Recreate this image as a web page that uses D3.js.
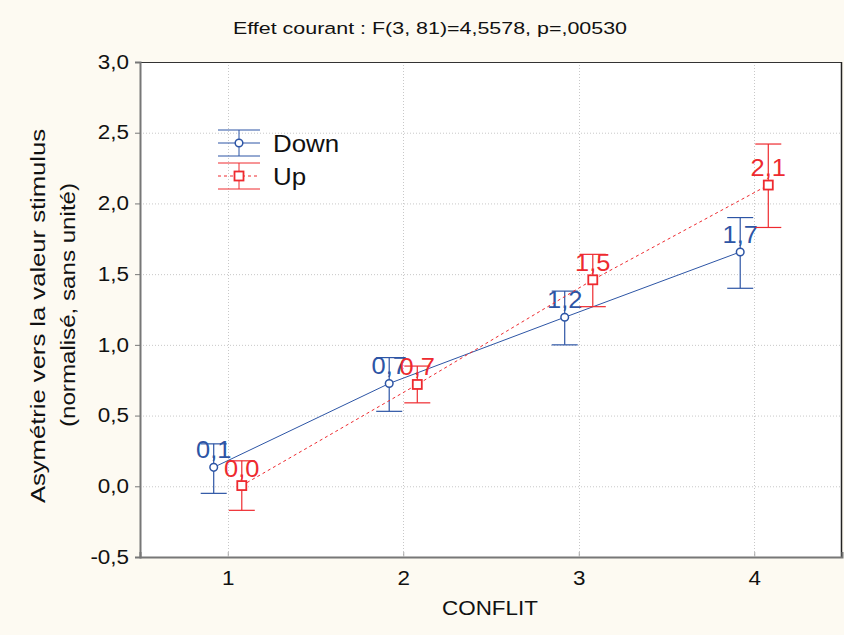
<!DOCTYPE html>
<html>
<head>
<meta charset="utf-8">
<script src="https://cdn.jsdelivr.net/npm/d3@7/dist/d3.min.js"></script>
<style>
  html, body { margin: 0; padding: 0; background: #fdfaf2; }
  svg { display: block; font-family: "Liberation Sans", Arial, sans-serif; }
</style>
</head>
<body>
<svg id="chart" width="844" height="635"></svg>
<script>
// Conflict levels on the x axis
const conflits = [1, 2, 3, 4];
// Mean asymmetry per condition, with error-bar bounds
const downMeans = [0.134, 0.727, 1.195, 1.657];
const downLow   = [-0.05, 0.53, 1.00, 1.40];
const downHigh  = [0.30, 0.91, 1.38, 1.90];
const upMeans   = [0.005, 0.72, 1.46, 2.13];
const upLow     = [-0.17, 0.59, 1.27, 1.83];
const upHigh    = [0.18, 0.85, 1.64, 2.42];
const yTicks = [-0.5, 0, 0.5, 1, 1.5, 2, 2.5, 3];

const svg = d3.select("#chart");
const plotL = 140, plotR = 842, plotT = 62, plotB = 557;

const x = d3.scaleLinear().domain([0.5, 4.5]).range([plotL, plotR]);
const y = d3.scaleLinear().domain([-0.5, 3]).range([plotB, plotT]);
// decimal comma, plain hyphen for negatives
const fmt = v => d3.format(".1f")(v).replace(".", ",").replace("\u2212", "-");

// text with a slightly widened face, anchored at (tx, ty)
function wideText(parent, tx, ty, str, size, sx, anchor, color) {
  return parent.append("g").attr("transform", `translate(${tx},${ty})`)
    .append("text").attr("transform", `scale(${sx},1)`)
    .attr("text-anchor", anchor || "start").attr("font-size", size)
    .attr("fill", color || "#111").text(str);
}

// plot area
svg.append("rect").attr("x", plotL).attr("y", plotT)
  .attr("width", plotR - plotL).attr("height", plotB - plotT).attr("fill", "#fff");

// dotted grid
const grid = svg.append("g").attr("stroke", "#c8c8c8").attr("stroke-dasharray", "1,2").attr("stroke-width", 1);
yTicks.slice(1, -1).forEach(t => {
  grid.append("line").attr("x1", plotL).attr("x2", plotR).attr("y1", y(t) + 0.5).attr("y2", y(t) + 0.5);
});
conflits.forEach(c => {
  grid.append("line").attr("x1", Math.round(x(c)) + 0.5).attr("x2", Math.round(x(c)) + 0.5).attr("y1", plotT).attr("y2", plotB);
});

// frame
svg.append("line").attr("x1", plotL).attr("x2", plotR).attr("y1", plotT + 0.5).attr("y2", plotT + 0.5).attr("stroke", "#333");
svg.append("line").attr("x1", plotR - 0.5).attr("x2", plotR - 0.5).attr("y1", plotT).attr("y2", plotB).attr("stroke", "#222").attr("stroke-width", 1.5);

// axes
const tickSx = 1.15;
const yAxis = d3.axisLeft(y).tickValues(yTicks).tickSize(5).tickPadding(5).tickFormat(fmt);
const gy = svg.append("g").attr("transform", `translate(${plotL},0)`).call(yAxis);
gy.select(".domain").attr("stroke", "#777").attr("stroke-width", 2);
gy.selectAll(".tick line").attr("stroke", "#777");
gy.selectAll("text").attr("font-size", 19.5).attr("fill", "#111")
  .attr("font-family", "Liberation Sans, Arial, sans-serif")
  .attr("x", -11 / tickSx).attr("transform", `scale(${tickSx},1)`);

const xAxis = d3.axisBottom(x).tickValues(conflits).tickSize(-5).tickPadding(14).tickFormat(d3.format("d"));
const gx = svg.append("g").attr("transform", `translate(0,${plotB})`).call(xAxis);
gx.select(".domain").attr("stroke", "#777").attr("stroke-width", 2);
gx.selectAll(".tick line").attr("stroke", "#aaa");
gx.selectAll("text").attr("font-size", 19.5).attr("fill", "#111")
  .attr("font-family", "Liberation Sans, Arial, sans-serif")
  .attr("transform", `scale(${tickSx},1)`);

// titles
wideText(svg, 430, 34, "Effet courant : F(3, 81)=4,5578, p=,00530", 16.5, 1.3, "middle");
wideText(svg, 490, 615, "CONFLIT", 19.5, 1.15, "middle");
const yTitle = svg.append("g");
wideText(yTitle.append("g").attr("transform", "translate(45,316) rotate(-90)"), 0, 0,
  "Asymétrie vers la valeur stimulus", 21, 1.22, "middle");
wideText(yTitle.append("g").attr("transform", "translate(75,305) rotate(-90)"), 0, 0,
  "(normalisé, sans unité)", 21, 1.15, "middle");

// series
const series = [
  { name: "Down", color: "#2d55a5", off: -0.08, means: downMeans, low: downLow, high: downHigh, dash: null, shape: "circle" },
  { name: "Up", color: "#ee2a2f", off: 0.08, means: upMeans, low: upLow, high: upHigh, dash: "3,3", shape: "square" }
];

const cap = 13;
series.forEach(s => {
  const g = svg.append("g");
  const pts = conflits.map((c, i) => ({ cx: x(c + s.off), m: s.means[i], lo: s.low[i], hi: s.high[i] }));
  g.append("path").datum(pts)
    .attr("d", d3.line().x(d => d.cx).y(d => y(d.m)))
    .attr("fill", "none").attr("stroke", s.color).attr("stroke-width", 1)
    .attr("stroke-dasharray", s.dash);
  pts.forEach(p => {
    g.append("line").attr("x1", p.cx).attr("x2", p.cx).attr("y1", y(p.lo)).attr("y2", y(p.hi))
      .attr("stroke", s.color).attr("stroke-width", 1.2);
    [p.lo, p.hi].forEach(v => {
      g.append("line").attr("x1", p.cx - cap).attr("x2", p.cx + cap).attr("y1", y(v)).attr("y2", y(v))
        .attr("stroke", s.color).attr("stroke-width", 1.2);
    });
    wideText(g, p.cx, y(p.m) - 9, fmt(p.m), 24, 1.06, "middle", s.color);
    if (s.shape === "circle") {
      g.append("circle").attr("cx", p.cx).attr("cy", y(p.m)).attr("r", 3.8)
        .attr("fill", "#fff").attr("stroke", s.color).attr("stroke-width", 1.5);
    } else {
      g.append("rect").attr("x", p.cx - 4.5).attr("y", y(p.m) - 4.5).attr("width", 9).attr("height", 9)
        .attr("fill", "#fff").attr("stroke", s.color).attr("stroke-width", 1.8);
    }
  });
});

// legend
const legend = svg.append("g");
series.forEach((s, i) => {
  const cy = 143 + i * 33, lx1 = 218, lx2 = 260, mx = 239;
  const g = legend.append("g");
  g.append("line").attr("x1", lx1).attr("x2", lx2).attr("y1", cy - 13).attr("y2", cy - 13).attr("stroke", s.color);
  g.append("line").attr("x1", lx1).attr("x2", lx2).attr("y1", cy + 13).attr("y2", cy + 13).attr("stroke", s.color);
  g.append("line").attr("x1", lx1).attr("x2", lx2).attr("y1", cy).attr("y2", cy).attr("stroke", s.color)
    .attr("stroke-dasharray", s.dash);
  g.append("line").attr("x1", mx).attr("x2", mx).attr("y1", cy - 13).attr("y2", cy + 13).attr("stroke", s.color);
  if (s.shape === "circle") {
    g.append("circle").attr("cx", mx).attr("cy", cy).attr("r", 3.8)
      .attr("fill", "#fff").attr("stroke", s.color).attr("stroke-width", 1.5);
  } else {
    g.append("rect").attr("x", mx - 4.5).attr("y", cy - 4.5).attr("width", 9).attr("height", 9)
      .attr("fill", "#fff").attr("stroke", s.color).attr("stroke-width", 1.8);
  }
  wideText(g, 273, cy + 9, s.name, 24, 1.08, "start");
});
</script>
</body>
</html>
